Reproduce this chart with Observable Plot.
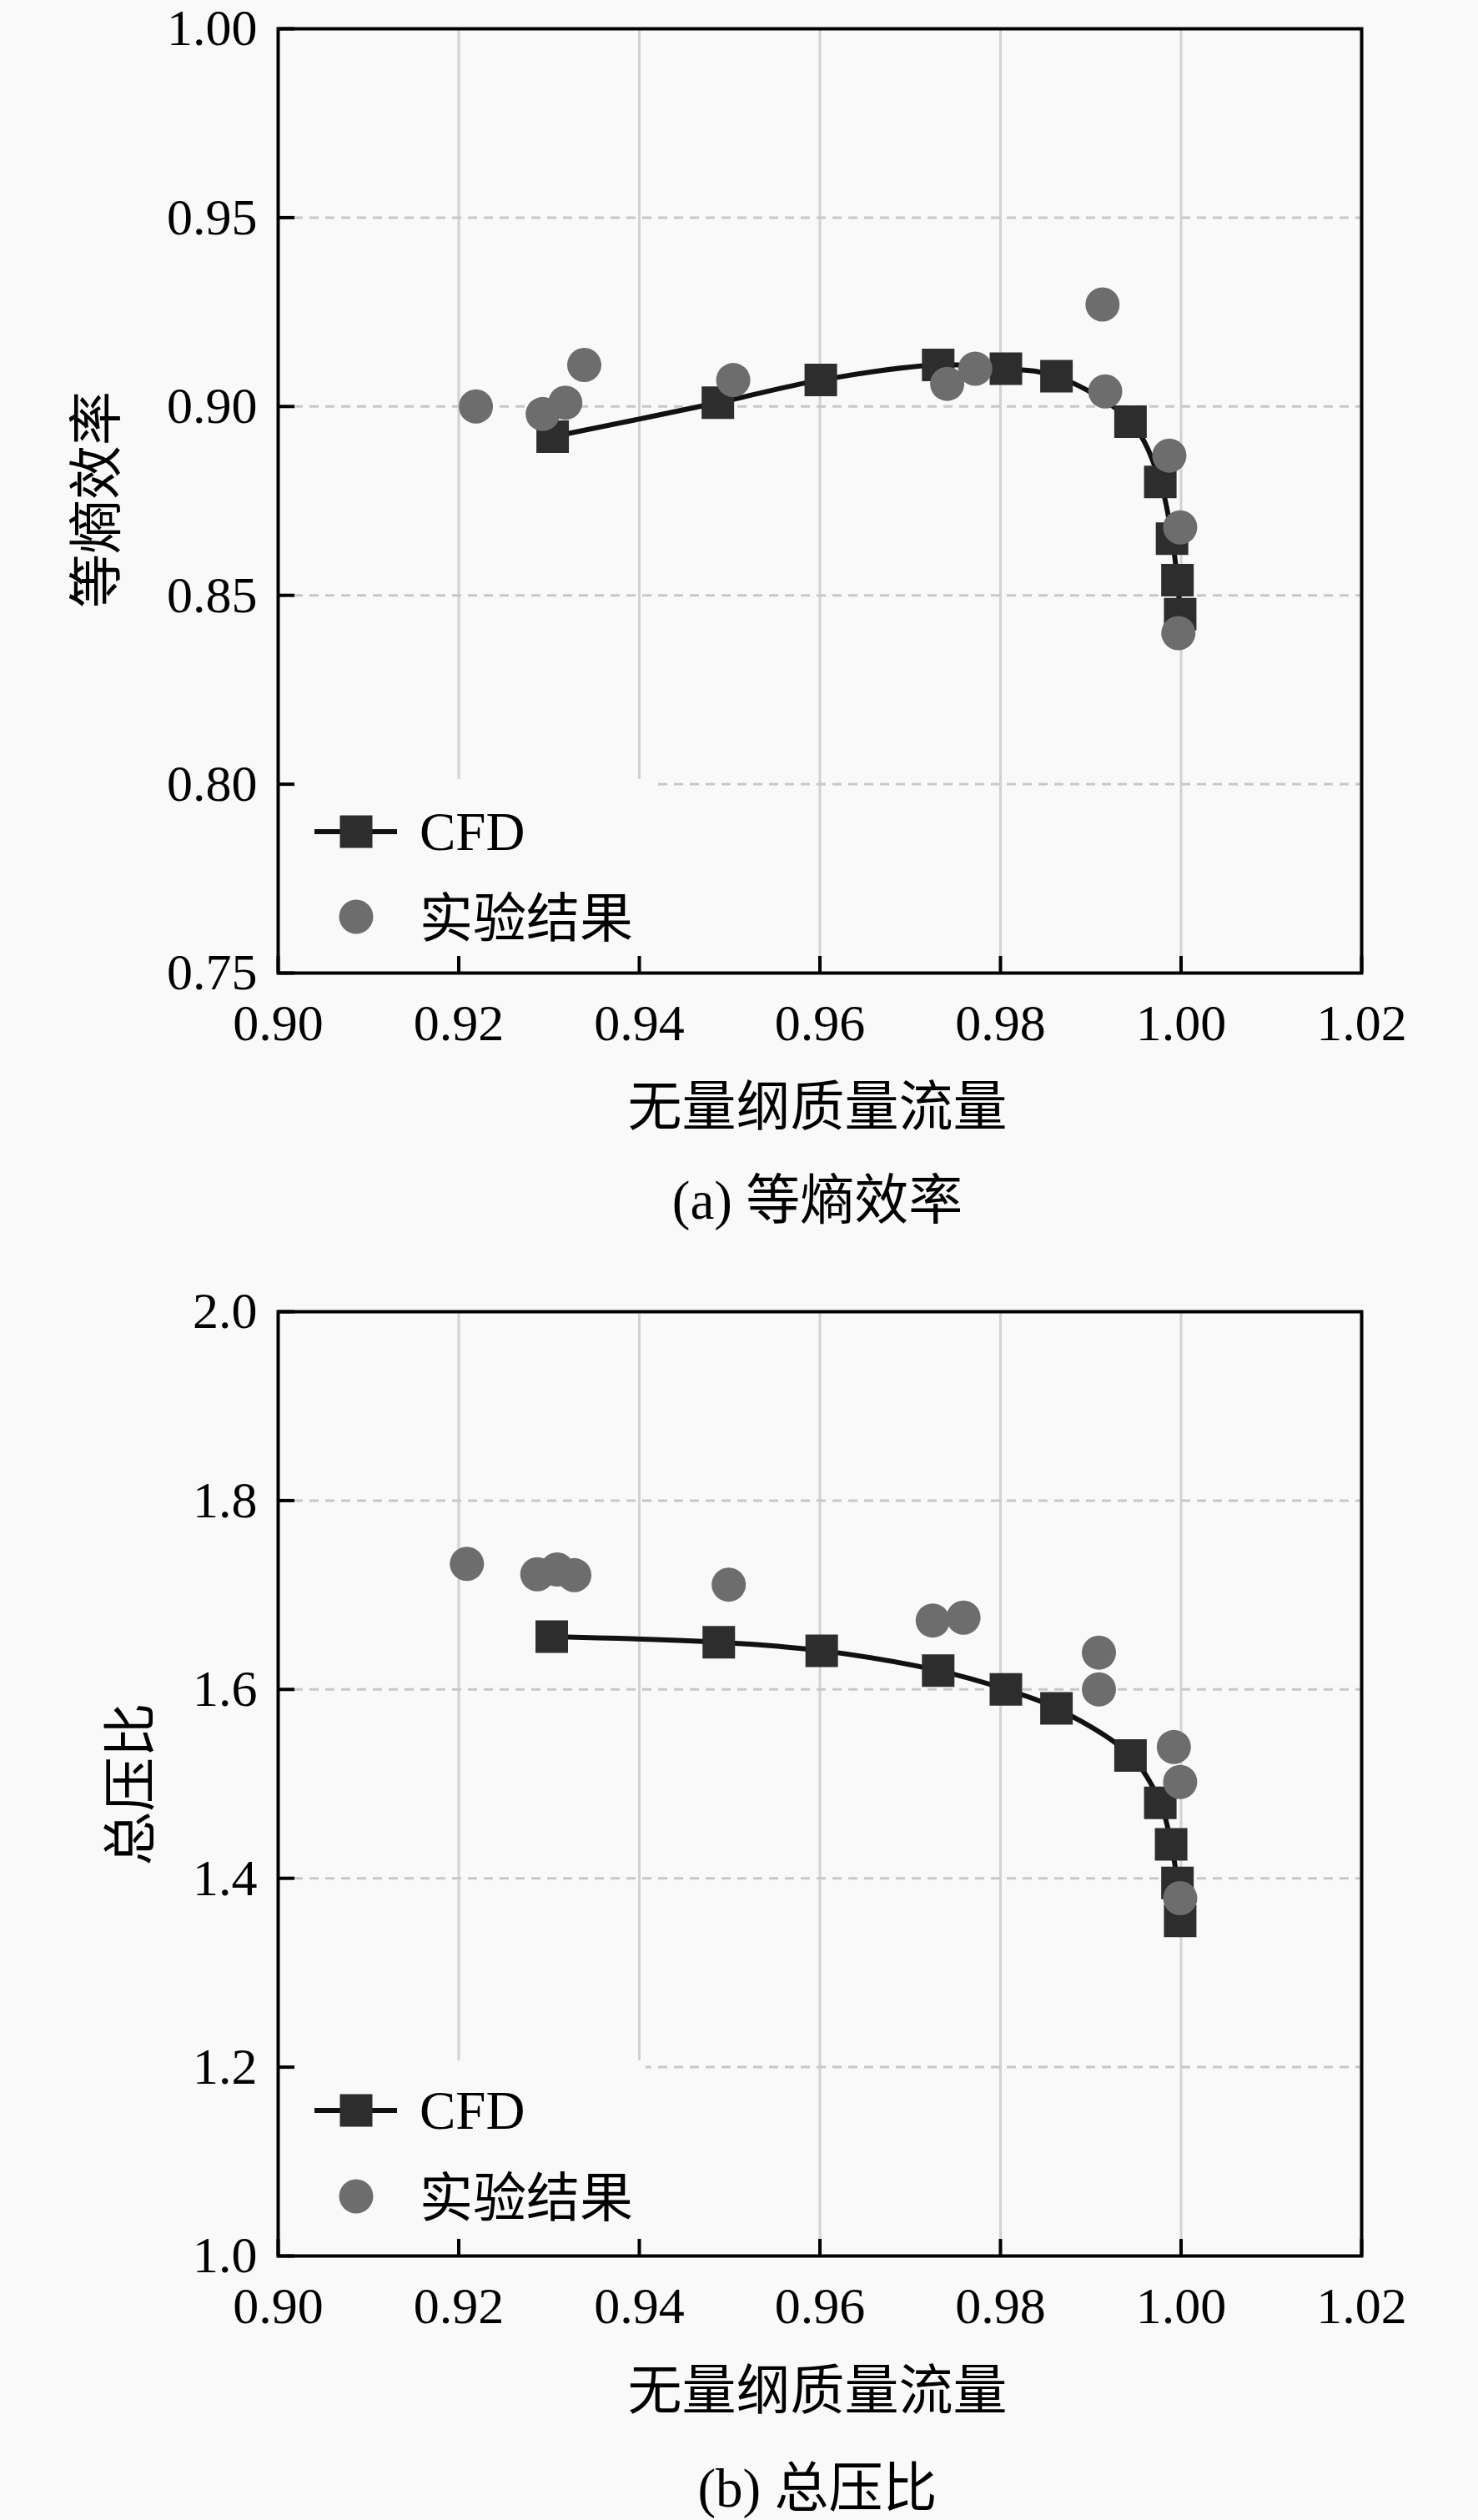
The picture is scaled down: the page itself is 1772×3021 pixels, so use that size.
<!DOCTYPE html>
<html><head><meta charset="utf-8">
<script src="https://cdn.jsdelivr.net/npm/d3@7"></script>
<script src="https://cdn.jsdelivr.net/npm/@observablehq/plot@0.6"></script>
<style>
html,body{margin:0;padding:0;background:#f9f9f9;}
#page{position:relative;width:1772px;height:3021px;background:#f9f9f9;overflow:hidden;font-family:"Liberation Serif","Noto Sans CJK SC",serif;color:#000;}
.panel{position:absolute;left:0;}
.lbl{position:absolute;transform:translate(-50%,-50%);white-space:nowrap;font-size:65px;line-height:1;}
.ylbl{position:absolute;transform:translate(-50%,-50%) rotate(-90deg);white-space:nowrap;font-size:65px;line-height:1;}
</style></head><body><div id="page"></div>
<script>
// ---- data ----
const xTicks = [0.90, 0.92, 0.94, 0.96, 0.98, 1.00, 1.02];
const xGrid = [0.92, 0.94, 0.96, 0.98, 1.00];
const effTicks = [0.75, 0.80, 0.85, 0.90, 0.95, 1.00];
const effGrid = [0.80, 0.85, 0.90, 0.95];
const prTicks = [1.0, 1.2, 1.4, 1.6, 1.8, 2.0];
const prGrid = [1.2, 1.4, 1.6, 1.8];

const cfdFlowA = [0.9304, 0.9487, 0.9601, 0.9731, 0.9806, 0.9862, 0.9944, 0.9977, 0.9990, 0.9996, 0.9999];
const cfdEff   = [0.892, 0.901, 0.907, 0.911, 0.910, 0.908, 0.896, 0.880, 0.865, 0.854, 0.845];
const expFlowA = [0.9219, 0.9293, 0.9318, 0.9339, 0.9504, 0.9741, 0.9772, 0.9913, 0.9916, 0.9987, 0.9999, 0.9997];
const expEff   = [0.900, 0.898, 0.901, 0.911, 0.907, 0.906, 0.910, 0.927, 0.904, 0.887, 0.868, 0.840];

const cfdFlowB = [0.9303, 0.9488, 0.9602, 0.9731, 0.9806, 0.9862, 0.9944, 0.9977, 0.9989, 0.9996, 0.9999];
const cfdPr    = [1.656, 1.650, 1.641, 1.620, 1.600, 1.580, 1.530, 1.480, 1.436, 1.395, 1.355];
const expFlowB = [0.9209, 0.9287, 0.9309, 0.9328, 0.9499, 0.9725, 0.9759, 0.9909, 0.9909, 0.9992, 0.9999, 0.9999];
const expPr    = [1.733, 1.722, 1.727, 1.721, 1.711, 1.673, 1.676, 1.639, 1.600, 1.539, 1.502, 1.379];

const legendLabels = ["CFD", "实验结果"];
const xTitle = "无量纲质量流量";
const captions = ["(a) 等熵效率", "(b) 总压比"];
const yTitles = ["等熵效率", "总压比"];

// ---- style ----
const BG = "#f9f9f9";
const SQ = "#2d2d2d";
const CIR = "#6d6d6d";
const SERIF = "Liberation Serif, Noto Sans CJK SC, serif";

function toRows(xs, ys) { return xs.map((x, i) => ({flow: x, v: ys[i]})); }

function legendMark(o) {
  return (index, scales, values, dim) => {
    const L = dim.marginLeft, B = dim.height - dim.marginBottom;
    const g = d3.create("svg:g");
    g.append("rect").attr("x", L).attr("y", B - o.boxH).attr("width", o.boxW).attr("height", o.boxH).attr("fill", BG);
    const cy = B - o.cfdDy, ey = B - o.expDy, mx = L + 94;
    g.append("line").attr("x1", L + 44).attr("x2", L + 143).attr("y1", cy).attr("y2", cy)
      .attr("stroke", "#111").attr("stroke-width", 6);
    g.append("rect").attr("x", mx - 19.5).attr("y", cy - 19.5).attr("width", 39).attr("height", 39).attr("fill", SQ);
    g.append("circle").attr("cx", mx).attr("cy", ey).attr("r", 20.5).attr("fill", CIR);
    g.append("text").attr("x", L + 170).attr("y", cy + 22).attr("font-size", 65).attr("text-anchor", "start")
      .attr("font-family", SERIF).attr("fill", "#000").text(legendLabels[0]);
    g.append("text").attr("x", L + 170).attr("y", ey + 24).attr("font-size", 64).attr("text-anchor", "start")
      .attr("font-family", SERIF).attr("fill", "#000").text(legendLabels[1]);
    return g.node();
  };
}

function panel(cfdX, cfdY, expX, expY, yDomain, yTicks, yGrid, fmt, leg) {
  const cfd = toRows(cfdX, cfdY), exp = toRows(expX, expY);
  return Plot.plot({
    width: 1772, height: 1300,
    marginTop: 34, marginBottom: 134, marginLeft: 333, marginRight: 140,
    x: {domain: [0.90, 1.02], label: null},
    y: {domain: yDomain, label: null},
    style: {background: "transparent", fontFamily: SERIF, fontSize: "62px", color: "#000", overflow: "visible"},
    marks: [
      Plot.ruleX(xGrid, {stroke: "#d2d2d2", strokeWidth: 3}),
      Plot.ruleY(yGrid, {stroke: "#c8c8c8", strokeWidth: 3, strokeDasharray: "11,8"}),
      legendMark(leg),
      Plot.line(cfd, {x: "flow", y: "v", curve: "catmull-rom", stroke: "#111", strokeWidth: 6}),
      Plot.dot(cfd, {x: "flow", y: "v", symbol: "square", r: 22, fill: SQ}),
      Plot.dot(exp, {x: "flow", y: "v", r: 20.5, fill: CIR}),
      Plot.frame({stroke: "#000", strokeWidth: 4}),
      Plot.axisX(xTicks, {tickSize: 0, tickPadding: 36, tickFormat: d3.format(".2f"), fontSize: 62, fontFamily: "Liberation Serif", label: null}),
      Plot.axisX(xTicks, {tickSize: 20, dy: -20, fill: "none", stroke: "#000", strokeWidth: 4, label: null}),
      Plot.axisY(yTicks, {tickSize: 0, tickPadding: 25, tickFormat: d3.format(fmt), fontSize: 62, fontFamily: "Liberation Serif", label: null}),
      Plot.axisY(yTicks, {tickSize: 20, dx: 20, fill: "none", stroke: "#000", strokeWidth: 4, label: null})
    ]
  });
}

const page = document.getElementById("page");
function place(node, top) {
  node.classList.add("panel");
  node.style.top = top + "px";
  page.appendChild(node);
}
place(panel(cfdFlowA, cfdEff, expFlowA, expEff, [0.75, 1.00], effTicks, effGrid, ".2f",
  {boxW: 451, boxH: 232, cfdDy: 169, expDy: 67}), 0);
place(panel(cfdFlowB, cfdPr, expFlowB, expPr, [1.0, 2.0], prTicks, prGrid, ".1f",
  {boxW: 441, boxH: 234, cfdDy: 174, expDy: 71}), 1538);

function label(cls, text, x, y) {
  const d = document.createElement("div");
  d.className = cls; d.textContent = text;
  d.style.left = x + "px"; d.style.top = y + "px";
  page.appendChild(d);
}
label("ylbl", yTitles[0], 116, 599);
label("ylbl", yTitles[1], 157, 2139);
label("lbl", xTitle, 980, 1327);
label("lbl", xTitle, 980, 2866);
label("lbl", captions[0], 980, 1439);
label("lbl", captions[1], 980, 2983);
</script>
</body></html>
